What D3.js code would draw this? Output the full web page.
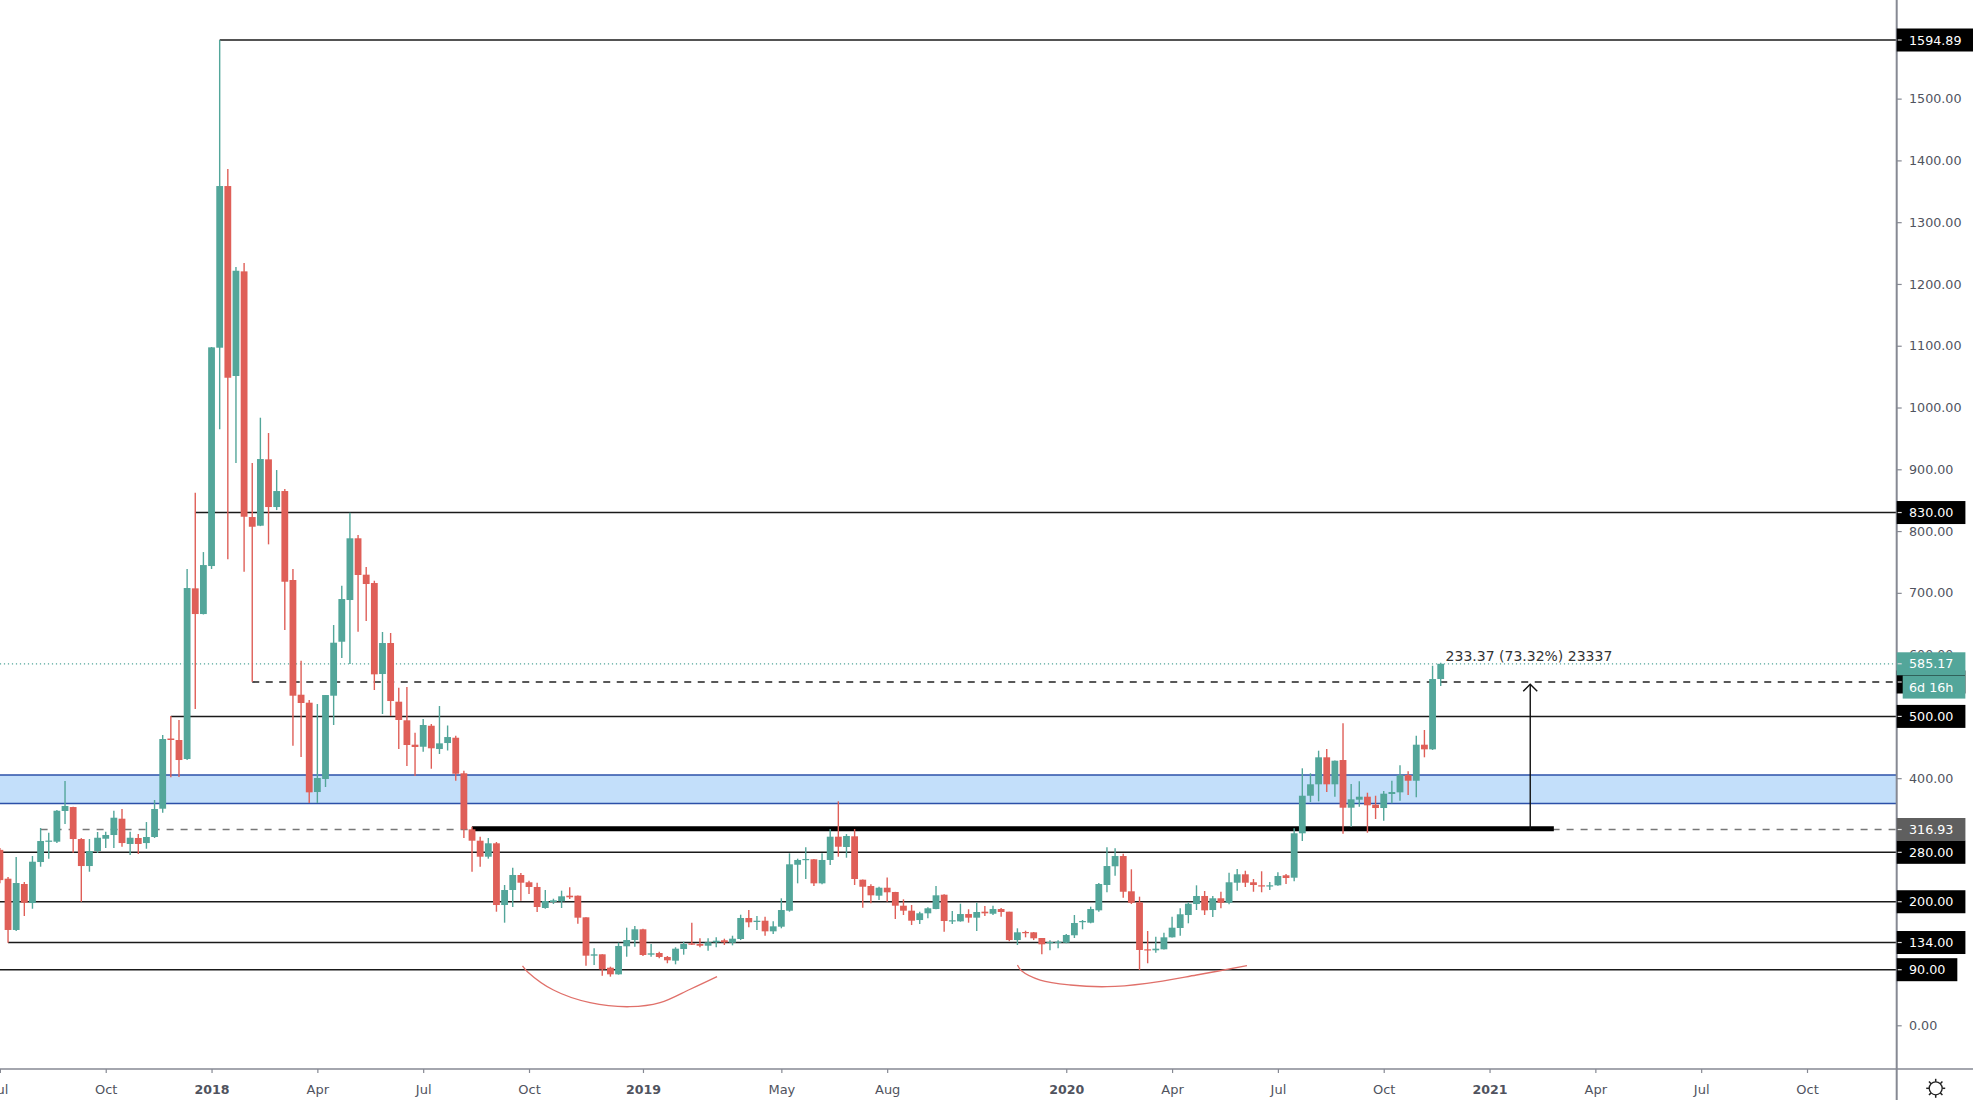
<!DOCTYPE html>
<html>
<head>
<meta charset="utf-8">
<title>Weekly candles</title>
<script src="https://cdn.jsdelivr.net/npm/d3@7"></script>
<style>
html, body { margin: 0; padding: 0; background: #fff; }
svg { display: block; }
text { font-family: "DejaVu Sans", sans-serif; }
</style>
</head>
<body>
<div id="chart"></div>
<script>
// weekly bars
const barOpen = [
  284,237.3,154.3,228.7,197.9,264.3,297,297.2,346.9,353.3,
  301.5,257.8,282.1,302,308,334.4,293.5,303.2,295,304.8,
  350.6,464.2,461.8,431,707.3,665.7,743.4,1096.8,1358.5,1051,
  1220.4,822.7,808.7,916.1,838.9,864.8,720.8,535.1,522.2,377.6,
  398.7,533.5,620.9,688.4,788.3,729.4,715.9,568.6,618.8,523.8,
  493.7,454.2,450.9,484.9,447.2,456.9,465.5,407.9,317.2,298.8,
  272.9,294.6,194.7,219,243.3,231.5,223.9,189.9,199.6,200.7,
  209.8,209.8,174.8,112.7,114.9,93.2,82.5,127.9,138,155.4,
  114.3,117,110.6,104.6,123.5,132.7,131.6,128.8,134.3,137.6,
  133.7,139.7,173.7,167.2,169.3,152.1,159.6,185.5,259.9,267.6,
  268.7,229.8,267.6,305.3,288.6,305.9,235.7,225.5,209.8,222.7,
  215.8,193.6,185.5,170.4,181.3,188.2,211.4,168.3,168.3,180.1,
  174.2,183.9,180.6,188.2,183.9,138,151,150.5,141.3,132.7,
  133.7,133.7,145.7,167.2,166.1,186.1,227.1,257.4,274,216.9,
  199.1,123,121.4,123,142.4,157.5,178.5,196.3,209.3,186.6,
  205.6,198.4,230.8,244.4,231.5,226.6,225,226.6,242.8,238.9,
  310.8,371.6,390.1,433.8,390.1,429.4,352.2,365.2,370,357.1,
  351.7,374.4,377.1,405.1,395.9,454.2,446.7,560.5];
const barClose = [
  235,154.3,230.3,198.4,264.8,298.3,299,347.3,355,301.5,
  257.8,282.1,303.6,308,336,295,303.6,293.5,304.8,350.1,
  463.4,461.8,429.4,707.8,665.7,745,1097.4,1358.5,1048.2,1221.4,
  823.2,807,916.6,838.9,864.8,718,533.5,521.7,377.1,400.3,
  534.6,619.3,690,788.3,728.9,714.3,568.1,618.8,524.9,494.2,
  453.7,450.5,486.1,448.4,456.4,466.6,407.2,317.2,298.8,272.9,
  294.6,194.7,219,243.3,230.8,223.9,191.5,201.2,202.3,208.8,
  207.2,174.2,112.7,114.9,90.6,82.5,128.4,138,155.4,113.8,
  116.5,110.6,105.2,124,131.6,130.5,128.8,134.3,136.9,134.3,
  140.2,173.7,166.7,169.3,152.1,160.2,186.6,260.6,267.6,269.2,
  229.8,267.6,305.3,289.1,306.4,236.8,224.3,210.4,222.7,215.3,
  193.6,185.5,169.3,181.3,189.4,210.4,168.8,170,180.1,174.2,
  183.4,181.3,188.2,183.4,138,150.5,149.4,140.8,131.1,134.8,
  135.3,146.2,165.6,168.8,188.2,228.7,257.8,274,216.2,198.4,
  121.9,121.4,124,142.4,158,179.7,196.8,209.3,186.1,205.6,
  198.4,231.5,244.4,230.8,227.1,225,226.6,241.7,238.4,310.8,
  371.6,390.1,433.8,390.1,428.3,352.2,365.8,370,356.1,351.7,
  374.9,377.6,404.7,395.9,454.2,446.7,560.5,585.17];
const barHigh = [
  287,240,272.4,232,274,319.3,311.7,348.5,395.4,353.8,
  303,301.5,312.9,313.4,347.3,350.1,313.4,309.6,329,364.7,
  469.9,500.6,494.2,738.6,862,766,1098,1594.89,1386,1227.4,
  1233.9,910.1,983.5,958.7,898.8,868,738.6,590.1,526.5,520,
  534.6,647.9,711.5,829.7,793.6,741.8,719.6,636.6,635,546.4,
  547.6,473.6,495.8,487.7,516.8,485.3,468.7,412.1,321.5,305.3,
  303.2,296.7,227.1,255.1,246.5,234.1,230.8,219,204.9,217.9,
  223.4,210,175,124.6,115,94.9,133.7,158,160.7,156.4,
  131.6,119.1,112.2,126.3,135.3,166.1,140.8,140.8,142.4,140.2,
  145,179,186.6,176.9,175.8,168.3,205.6,278.4,269.7,288.1,
  269,278.4,317.7,362.6,309.6,317.7,236,228.2,224.3,239.2,
  216,203.9,194.7,183.9,191,225.5,212,185,196.8,187.8,
  198.4,193.1,193.6,189.9,184,157,153.1,151,141.3,137.6,
  137.6,147.8,178.5,170.4,192,230.3,288.1,286.5,277.8,252.5,
  208.2,152.6,143.4,149.9,175.8,189.4,199.1,226.6,217.4,209.3,
  216.2,247,253,250.2,236.8,249.3,231.9,247.6,244.9,318.9,
  416,407.9,444.5,447.2,428.6,488.8,390.6,394.9,376.5,371.6,
  379.2,395.9,420.8,411.1,468.7,478,582,587];
const barLow = [
  230,133.7,152.6,176.9,188.7,256.7,269.7,295,325.8,279.4,
  200,248.6,278.9,287,287,289,275.6,277.3,285.8,303.2,
  344.1,401.4,401.9,429.4,512,665,738.6,964.7,754.3,910.1,
  734.2,556.2,808,778.5,834,639.8,452.6,434.3,359.8,359.8,
  385.7,486.1,594.5,584.8,637.1,654.4,542.7,503.9,500.6,447.2,
  419.7,403.5,442.9,415.3,439.1,444.8,395.9,303.2,248.6,256.7,
  269.7,183.9,166.1,191.5,201.7,212.5,183.4,188.7,196.3,189.9,
  204.4,164.5,96.5,97.6,80.3,78.7,82,111,127.2,112.2,
  111,108.4,100.4,98.7,114.3,130,126.3,120.7,126.3,130,
  129.5,138,158.6,154.3,145,147.8,157,183.9,229.8,236.8,
  225.5,228.2,259.5,272.9,271.3,227.1,190.3,197.5,202.8,200,
  172.1,178.5,162.3,164,173.2,187.8,151.5,164,167.7,166.1,
  152.6,177,178.5,175.8,136,130,142.4,138,114.9,121.4,
  124.6,132.7,141.3,155.4,165.1,183.9,215.3,242.1,206.5,196.3,
  89.5,100.4,117.5,122.7,142,145,165.1,186.6,178.5,175.3,
  189.4,195.9,217.9,223.9,216.2,215.3,219,226,228.7,233.1,
  298.3,361.4,362.6,377.6,370,310.1,321.5,353.8,311.7,333.9,
  331.2,359.3,363.5,372.8,369,433.8,445.6,549.2];

const yTicks = d3.range(0, 1501, 100);
const xTickBars = [0, 13, 26, 39, 52, 65, 79, 96, 109, 131, 144, 157, 170, 183, 196, 209, 222];
const xTickNames = ["Jul","Oct","2018","Apr","Jul","Oct","2019","May","Aug","2020","Apr","Jul","Oct","2021","Apr","Jul","Oct"];

// solid levels: price, first bar
const levelPrices = [1594.89, 830, 500, 280, 200, 134, 90];
const levelStartBars = [27, 24, 21, 0, 0, 1, 0];
const bandPrices = [405, 359];
const lastPrice = 585.17;
const targetPrice = 555.7;
const basePrice = 316.93;

const smileBars1 = [64.2, 64.8, 68, 72.5, 77.4, 81.1, 84.8, 88.1];
const smilePrices1 = [96, 86.8, 57.1, 36.6, 30.1, 36.6, 58.3, 78.7];
const smileBars2 = [125, 125.5, 127.8, 131.5, 136, 140.9, 147, 153.2];
const smilePrices2 = [97.6, 88.4, 73.3, 65.2, 62.5, 68, 81.4, 96.5];

const upColor = "#53a69a", downColor = "#df5f58";
const width = 1973, height = 1100, axisX = 1896.7, axisY = 1069;

const svg = d3.select("#chart").append("svg")
    .attr("width", width)
    .attr("height", height);

const x = d3.scaleLinear().domain([0, 177]).range([-0.1, 1440.7]);
const y = d3.scaleLinear().domain([0, 1594.89]).range([1025.3, 40]);

svg.append("clipPath").attr("id", "plot").append("rect")
    .attr("width", axisX).attr("height", axisY);
const plot = svg.append("g").attr("clip-path", "url(#plot)");

// blue zone
plot.append("rect")
    .attr("x", 0).attr("width", axisX)
    .attr("y", y(bandPrices[0]))
    .attr("height", y(bandPrices[1]) - y(bandPrices[0]))
    .attr("fill", "#c3dffa");
plot.selectAll(".band-edge").data(bandPrices).enter().append("line")
    .attr("x1", 0).attr("x2", axisX)
    .attr("y1", d => y(d)).attr("y2", d => y(d))
    .attr("stroke", "#2b50a8").attr("stroke-width", 1.5);

function hline(price, fromBar, toX, color, w, dash) {
    plot.append("line")
        .attr("x1", x(fromBar)).attr("x2", toX)
        .attr("y1", y(price)).attr("y2", y(price))
        .attr("stroke", color).attr("stroke-width", w)
        .attr("stroke-dasharray", dash || null);
}

levelPrices.forEach((p, i) => hline(p, levelStartBars[i], axisX, "#1a1a1a", 1.5));
hline(basePrice, 5, axisX, "#777", 1.5, "7,7");
hline(targetPrice, 31, axisX, "#222", 1.6, "7,6.5");
hline(lastPrice, 0, axisX, upColor, 1.3, "1.2,2.8");
hline(318, 58, x(190.9), "#000", 5);

// candles
const bars = barOpen.map((o, i) => ({ i: i, o: o, c: barClose[i], h: barHigh[i], l: barLow[i] }));
const candle = plot.selectAll(".candle").data(bars).enter().append("g").attr("class", "candle");
candle.append("line")
    .attr("x1", d => x(d.i)).attr("x2", d => x(d.i))
    .attr("y1", d => y(d.h)).attr("y2", d => y(d.l))
    .attr("stroke-width", 1.4)
    .attr("stroke", d => d.c >= d.o ? upColor : downColor);
candle.append("rect")
    .attr("x", d => x(d.i) - 3.4)
    .attr("width", 6.8)
    .attr("y", d => y(Math.max(d.o, d.c)))
    .attr("height", d => Math.max(1.2, Math.abs(y(d.o) - y(d.c))))
    .attr("fill", d => d.c >= d.o ? upColor : downColor);

// hand drawn curves
const curve = d3.line().x(d => x(d[0])).y(d => y(d[1])).curve(d3.curveCatmullRom);
[[smileBars1, smilePrices1], [smileBars2, smilePrices2]].forEach(s => {
    plot.append("path")
        .attr("d", curve(s[0].map((b, i) => [b, s[1][i]])))
        .attr("fill", "none")
        .attr("stroke", "#e0706a")
        .attr("stroke-width", 1.3);
});

// measure arrow
const arrowBar = 188;
plot.append("line")
    .attr("x1", x(arrowBar)).attr("x2", x(arrowBar))
    .attr("y1", y(basePrice)).attr("y2", y(552))
    .attr("stroke", "#111").attr("stroke-width", 1.4);
plot.append("path")
    .attr("d", d3.line()([[x(arrowBar) - 7, y(552) + 7], [x(arrowBar), y(552)], [x(arrowBar) + 7, y(552) + 7]]))
    .attr("fill", "none").attr("stroke", "#111").attr("stroke-width", 1.4);
plot.append("text")
    .attr("x", x(177.6)).attr("y", y(lastPrice) - 2.3)
    .attr("font-size", 14).attr("fill", "#333")
    .text("233.37 (73.32%) 23337");

// axes
const yAxis = svg.append("g")
    .attr("transform", "translate(" + axisX + ",0)")
    .call(d3.axisRight(y).tickValues(yTicks).tickFormat(d3.format(".2f")).tickSize(5));
yAxis.select(".domain").remove();
yAxis.selectAll("line").attr("stroke", "#868993").attr("stroke-width", 1.2);
yAxis.selectAll("text")
    .attr("x", 12.3)
    .attr("font-size", 12.7)
    .attr("font-family", "DejaVu Sans")
    .attr("fill", "#50535e");

const xAxis = svg.append("g")
    .attr("transform", "translate(0," + axisY + ")")
    .call(d3.axisBottom(x).tickValues(xTickBars).tickFormat((d, i) => xTickNames[i]).tickSize(4));
xAxis.select(".domain").remove();
xAxis.selectAll("line").attr("stroke", "#868993").attr("stroke-width", 1.2);
xAxis.selectAll("text")
    .attr("y", 24.5).attr("dy", 0)
    .attr("font-size", d => d3.format("")(xTickNames[xTickBars.indexOf(d)].length === 4 ? 12.6 : 13))
    .attr("font-weight", d => xTickNames[xTickBars.indexOf(d)].length === 4 ? "bold" : "normal")
    .attr("font-family", "DejaVu Sans")
    .attr("fill", "#50535e");

svg.append("line").attr("x1", 0).attr("x2", width).attr("y1", axisY).attr("y2", axisY)
    .attr("stroke", "#868993").attr("stroke-width", 1.5);
svg.append("line").attr("x1", axisX).attr("x2", axisX).attr("y1", 0).attr("y2", height)
    .attr("stroke", "#868993").attr("stroke-width", 2);

// price tags on the axis
function priceTag(price, label, color, left) {
    const g = svg.append("g");
    const rect = g.append("rect")
        .attr("x", axisX + (left || 0))
        .attr("y", y(price) - 11.5)
        .attr("height", 23)
        .attr("fill", color);
    const t = g.append("text")
        .attr("x", 1909).attr("y", y(price) + 4.7)
        .attr("font-size", 12.7).attr("fill", "#fff")
        .text(label);
    rect.attr("width", 1909 + t.node().getComputedTextLength() + 12 - axisX - (left || 0));
    if (!left) {
        g.append("line")
            .attr("x1", axisX + 1).attr("x2", axisX + 5)
            .attr("y1", y(price)).attr("y2", y(price))
            .attr("stroke", "#ddd").attr("stroke-width", 1.2);
    }
}
priceTag(targetPrice, "555.70", "#000");
levelPrices.forEach(p => priceTag(p, d3.format(".2f")(p), "#000"));
priceTag(basePrice, "316.93", "#5f5f5f");
priceTag(lastPrice, "585.17", upColor);
priceTag(lastPrice - 37.7, "6d 16h", upColor, 6);

// settings gear
const gear = svg.append("g").attr("transform", "translate(1935.7,1088.3)");
gear.append("circle").attr("r", 6.5).attr("fill", "none").attr("stroke", "#222").attr("stroke-width", 1.3);
d3.range(8).forEach(k => {
    const a = k * Math.PI / 4;
    gear.append("line")
        .attr("x1", 6.5 * Math.cos(a)).attr("y1", 6.5 * Math.sin(a))
        .attr("x2", 9.5 * Math.cos(a)).attr("y2", 9.5 * Math.sin(a))
        .attr("stroke", "#222").attr("stroke-width", 1.5);
});
</script>
</body>
</html>
